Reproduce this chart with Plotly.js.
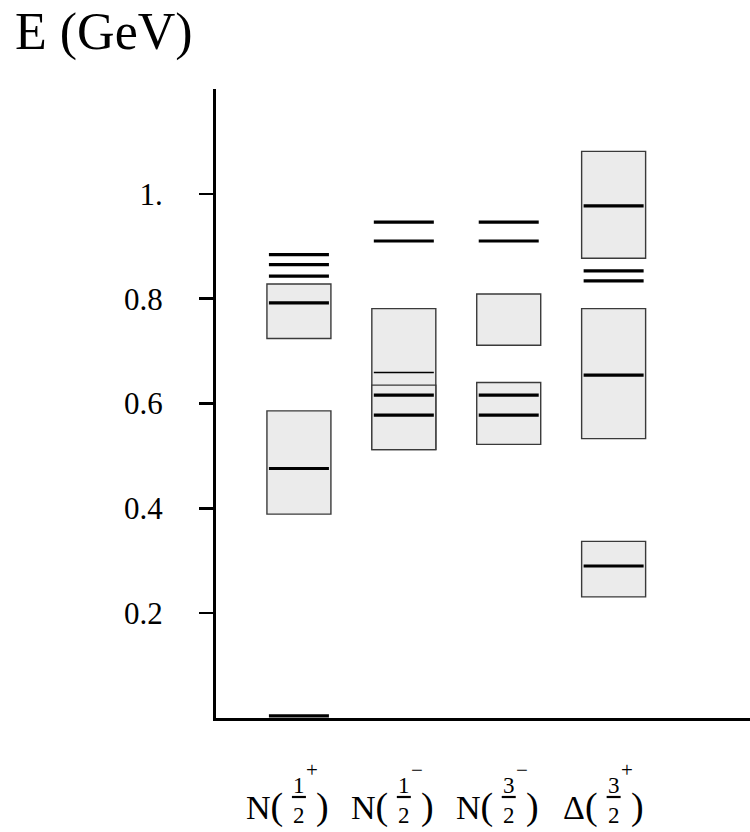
<!DOCTYPE html>
<html><head><meta charset="utf-8">
<script src="https://cdn.plot.ly/plotly-3.0.1.min.js"></script>
<style>html,body{margin:0;padding:0;background:#fff}#chart{width:750px;height:832px}</style>
</head><body><div id="chart"></div>
<script>
// categories (x positions) and their label parts
const xPos = [1, 2, 3, 4];
const states = ["N", "N", "N", "\u0394"];
const numerators = ["1", "1", "3", "3"];
const denominators = ["2", "2", "2", "2"];
const parities = ["+", "\u2212", "\u2212", "+"];

// shaded boxes: column, lower edge, upper edge (GeV)
const boxCol  = [1, 1, 2, 2, 3, 3, 4, 4, 4];
const boxLow  = [0.389, 0.724, 0.512, 0.512, 0.522, 0.711, 0.231, 0.533, 0.877];
const boxHigh = [0.586, 0.828, 0.781, 0.635, 0.640, 0.809, 0.337, 0.781, 1.081];

// thick level lines: column, energy (GeV)
const levelCol = [1, 1, 1, 1, 1, 1, 2, 2, 2, 2, 3, 3, 3, 3, 4, 4, 4, 4, 4];
const levelE   = [0.004, 0.476, 0.792, 0.843, 0.865, 0.884,
                  0.578, 0.616, 0.910, 0.946,
                  0.578, 0.616, 0.910, 0.946,
                  0.290, 0.654, 0.834, 0.853, 0.977];

// thin level line
const thinCol = [2];
const thinE   = [0.659];

// y ticks
const yTickVals = [0.2, 0.4, 0.6, 0.8, 1.0];
const yTickText = ["0.2", "0.4", "0.6", "0.8", "1."];

const FONT = "Liberation Serif, Times New Roman, serif";

const traces = [
  {
    type: "bar",
    x: boxCol,
    y: boxHigh.map((h, i) => h - boxLow[i]),
    base: boxLow,
    width: 0.61,
    marker: { color: "#ebebeb", line: { color: "#3a3a3a", width: 1.4 } },
    hoverinfo: "skip"
  },
  {
    type: "scatter", mode: "markers",
    x: levelCol, y: levelE,
    marker: { size: 1, color: "rgba(0,0,0,0)" },
    error_x: { type: "constant", value: 0.286, width: 0, thickness: 3.2, color: "#000" },
    hoverinfo: "skip"
  },
  {
    type: "scatter", mode: "markers",
    x: thinCol, y: thinE,
    marker: { size: 1, color: "rgba(0,0,0,0)" },
    error_x: { type: "constant", value: 0.286, width: 0, thickness: 1.4, color: "#000" },
    hoverinfo: "skip"
  }
];

const annotations = [];
const shapes = [];
xPos.forEach((xc, i) => {
  const base = { xref: "x", yref: "paper", x: xc, y: 0, yanchor: "middle", showarrow: false };
  annotations.push(Object.assign({}, base, {
    text: states[i] + "<span style='font-size:38px'>(</span>", xanchor: "right", xshift: -14, yshift: -88,
    font: { family: FONT, size: 34, color: "#000" }
  }));
  annotations.push(Object.assign({}, base, {
    text: ")", xanchor: "left", xshift: 15, yshift: -88,
    font: { family: FONT, size: 38, color: "#000" }
  }));
  annotations.push(Object.assign({}, base, {
    text: numerators[i], xanchor: "center", yshift: -67,
    font: { family: FONT, size: 23, color: "#000" }
  }));
  annotations.push(Object.assign({}, base, {
    text: denominators[i], xanchor: "center", yshift: -97,
    font: { family: FONT, size: 23, color: "#000" }
  }));
  annotations.push(Object.assign({}, base, {
    text: parities[i], xanchor: "center", xshift: 13, yshift: -52,
    font: { family: FONT, size: 21, color: "#000" }
  }));
  shapes.push({
    type: "line", xref: "x", xsizemode: "pixel", xanchor: xc, x0: -7, x1: 7,
    yref: "paper", ysizemode: "pixel", yanchor: 0, y0: -79, y1: -79,
    line: { color: "#000", width: 2.2 }
  });
});

const layout = {
  width: 750, height: 832,
  margin: { l: 215.5, r: 0, t: 88.6, b: 114, pad: 0 },
  paper_bgcolor: "#fff", plot_bgcolor: "#fff",
  showlegend: false,
  barmode: "overlay",
  title: {
    text: "E (GeV)",
    font: { family: FONT, size: 52, color: "#000" },
    xref: "container", x: 15 / 750, xanchor: "left",
    yref: "container", y: 1 - 31 / 832, yanchor: "middle"
  },
  xaxis: {
    range: [0.2095, 5.3], showgrid: false, zeroline: false,
    showline: true, linecolor: "#000", linewidth: 3,
    ticks: "", showticklabels: false, fixedrange: true
  },
  yaxis: {
    range: [0, 1.2], showgrid: false, zeroline: false,
    showline: true, linecolor: "#000", linewidth: 3,
    ticks: "outside", ticklen: 14, tickwidth: 2.5, tickcolor: "#000",
    tickvals: yTickVals, ticktext: yTickText,
    ticklabelstandoff: 30,
    tickfont: { family: FONT, size: 31, color: "#000" },
    fixedrange: true
  },
  annotations: annotations,
  shapes: shapes
};

Plotly.newPlot("chart", traces, layout, { displayModeBar: false, staticPlot: true });
</script>
</body></html>
